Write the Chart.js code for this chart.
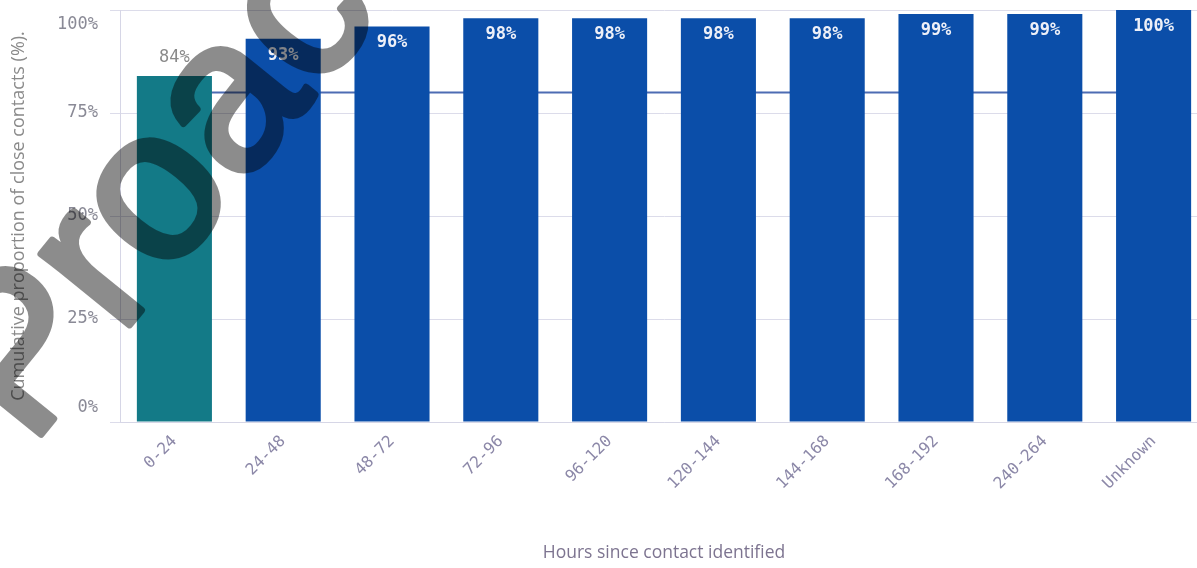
<!DOCTYPE html>
<html>
<head>
<meta charset="utf-8">
<script src="https://cdn.jsdelivr.net/npm/chart.js@4.4.1/dist/chart.umd.min.js"></script>
<style>
  html, body { margin: 0; padding: 0; background: #fff; overflow: hidden; }
  .chart { width: 1208px; height: 568px; }
</style>
</head>
<body>
<div class="chart"><canvas id="myChart"></canvas></div>
<script>
// hours since the close contact was identified
const hourBands = ['0-24', '24-48', '48-72', '72-96', '96-120', '120-144', '144-168', '168-192', '240-264', 'Unknown'];
// cumulative share of close contacts reached (%)
const cumulativePct = [84, 93, 96, 98, 98, 98, 98, 99, 99, 100];
// reference level drawn behind the bars (%)
const targetLine = [80, 80, 80, 80, 80, 80, 80, 80, 80, 80];
const yTicks = [0, 25, 50, 75, 100];

const monoFont = '"DejaVu Sans Mono", monospace';
const sansFont = '"Open Sans", "Noto Sans", sans-serif';

// value labels: first bar gets its label above, the rest inside the bar top
const barLabels = {
  id: 'barLabels',
  afterDatasetsDraw(chart) {
    const ctx = chart.ctx;
    const meta = chart.getDatasetMeta(0);
    ctx.save();
    ctx.textAlign = 'center';
    meta.data.forEach((bar, i) => {
      const txt = cumulativePct[i] + '%';
      if (i === 0) {
        ctx.font = '17px ' + monoFont;
        ctx.fillStyle = '#8a8a8a';
        ctx.textBaseline = 'bottom';
        ctx.fillText(txt, bar.x, bar.y - 10);
      } else {
        ctx.font = 'bold 17px ' + monoFont;
        ctx.fillStyle = '#eef0f8';
        ctx.textBaseline = 'top';
        ctx.fillText(txt, bar.x, bar.y + 8);
      }
    });
    ctx.restore();
  }
};

// diagonal stamp over the whole chart, drawn solid offscreen then blended once
const watermark = {
  id: 'watermark',
  afterDraw(chart) {
    const off = document.createElement('canvas');
    off.width = chart.width;
    off.height = chart.height;
    const oc = off.getContext('2d');
    oc.translate(30, 448);
    oc.rotate(-51 * Math.PI / 180);
    oc.font = '215px "Liberation Sans", Arial, sans-serif';
    oc.fillStyle = '#000';
    oc.strokeStyle = '#000';
    oc.lineWidth = 7;
    oc.lineJoin = 'round';
    oc.fillText('Proactive', 0, 0);
    oc.strokeText('Proactive', 0, 0);

    const ctx = chart.ctx;
    ctx.save();
    ctx.globalAlpha = 0.45;
    ctx.drawImage(off, 0, 0);
    ctx.restore();
  }
};

const ctx = document.getElementById('myChart');

const myChart = new Chart(ctx, {
  data: {
    labels: hourBands,
    datasets: [
      {
        type: 'bar',
        data: cumulativePct,
        backgroundColor: cumulativePct.map((v, i) => i === 0 ? '#137a87' : '#0b4ea9'),
        barPercentage: 0.69,
        categoryPercentage: 1,
        order: 0
      },
      {
        type: 'line',
        data: targetLine,
        borderColor: '#4d6cb3',
        borderWidth: 2,
        pointRadius: 0,
        fill: false,
        order: 1
      }
    ]
  },
  options: {
    responsive: true,
    maintainAspectRatio: false,
    animation: false,
    layout: { padding: { top: 10, right: 0, bottom: 0, left: 0 } },
    plugins: {
      legend: { display: false },
      tooltip: { enabled: false }
    },
    scales: {
      x: {
        grid: { display: false, drawTicks: false },
        border: { color: '#d6d6e6' },
        ticks: {
          color: '#8c88a8',
          font: { family: monoFont, size: 16 },
          minRotation: 45,
          maxRotation: 45,
          padding: 10
        },
        title: {
          display: true,
          text: 'Hours since contact identified',
          color: '#7d7490',
          font: { family: sansFont, size: 17.5 },
          padding: { top: 0, bottom: 4 }
        },
        afterFit(scale) {
          scale.height = 146;
          scale.paddingLeft = 0;
          scale.paddingRight = 0;
        }
      },
      y: {
        min: 0,
        max: 100,
        afterBuildTicks(scale) {
          scale.ticks = yTicks.map(v => ({ value: v }));
        },
        grid: { color: '#dcdcea', tickLength: 10 },
        border: { color: '#d6d6e6' },
        ticks: {
          color: '#8a8a96',
          font: { family: monoFont, size: 17, lineHeight: 1.7 },
          padding: 12,
          // edge labels sit inside the plot range
          callback(v) {
            if (v === 100) return ['', v + '%'];
            if (v === 0) return [v + '%', ''];
            return v + '%';
          }
        },
        title: {
          display: true,
          text: 'Cumulative proportion of close contacts (%).',
          color: '#8a8a8a',
          font: { family: sansFont, size: 18 },
          padding: { top: 8, bottom: 0 }
        },
        afterFit(scale) {
          scale.width = 120;
          scale.paddingTop = 0;
          scale.paddingBottom = 0;
        }
      }
    }
  },
  plugins: [barLabels, watermark]
});
</script>
</body>
</html>
